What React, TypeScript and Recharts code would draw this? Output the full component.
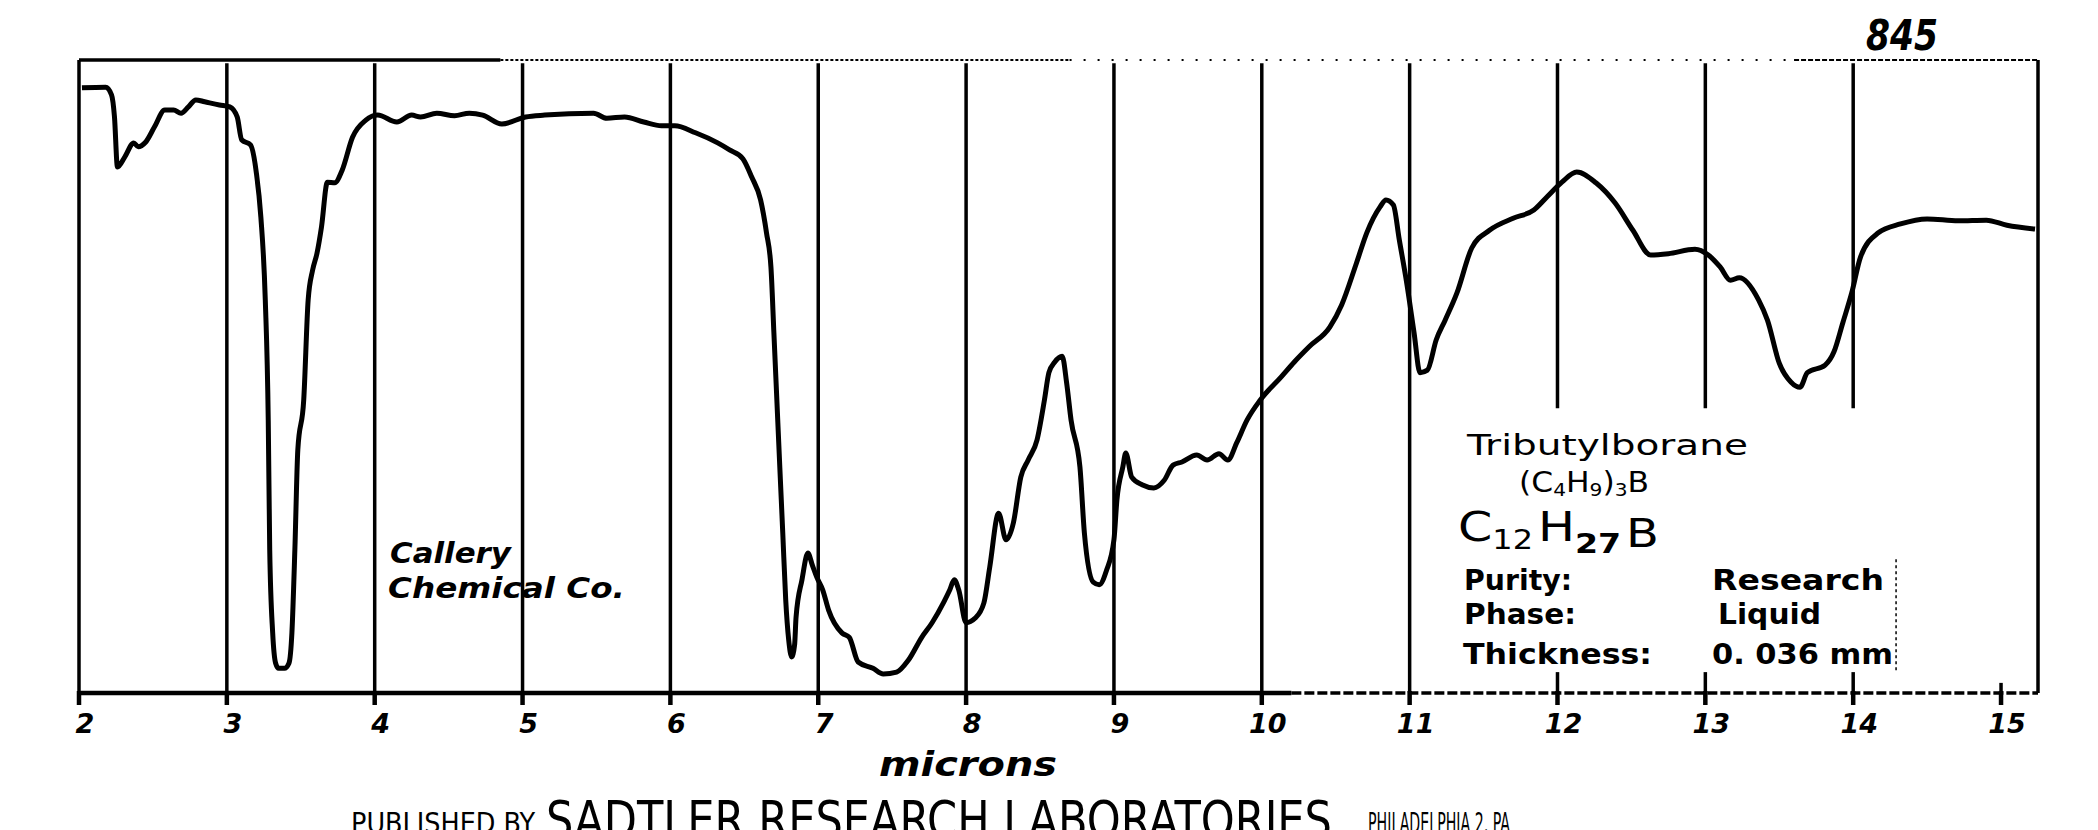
import React from 'react';
import { LineChart, Line, XAxis, YAxis, ReferenceLine } from 'recharts';

// wavelength in microns
const wavelength = [
  2.02, 2.18, 2.22, 2.24, 2.26, 2.31, 2.37, 2.40, 2.45, 2.51, 2.58, 2.64, 2.69, 2.74, 2.79, 2.85, 2.95,
  3.02, 3.07, 3.10, 3.16, 3.20, 3.23, 3.26, 3.28, 3.29, 3.31, 3.33, 3.35, 3.39, 3.42, 3.44, 3.46, 3.48,
  3.52, 3.55, 3.58, 3.61, 3.64, 3.68, 3.73, 3.78, 3.85, 3.94, 4.02, 4.15, 4.25, 4.31, 4.42, 4.54, 4.64,
  4.73, 4.86, 5.02, 5.15, 5.48, 5.57, 5.69, 5.82, 5.94, 6.03, 6.17, 6.32, 6.40, 6.49, 6.55, 6.61, 6.65,
  6.68, 6.70, 6.72, 6.74, 6.76, 6.78, 6.80, 6.82, 6.84, 6.85, 6.89, 6.93, 6.96, 6.99, 7.03, 7.07, 7.16,
  7.21, 7.27, 7.37, 7.44, 7.53, 7.61, 7.70, 7.77, 7.85, 7.89, 7.92, 7.95, 8.00, 8.06, 8.12, 8.16, 8.22,
  8.27, 8.32, 8.37, 8.42, 8.48, 8.53, 8.56, 8.60, 8.65, 8.68, 8.71, 8.77, 8.80, 8.86, 8.90, 8.95, 9.00,
  9.02, 9.06, 9.08, 9.12, 9.19, 9.27, 9.34, 9.40, 9.46, 9.56, 9.63, 9.71, 9.77, 9.83, 9.90, 9.99, 10.13,
  10.22, 10.32, 10.46, 10.54, 10.64, 10.71, 10.80, 10.84, 10.89, 10.93, 10.98, 11.03, 11.07, 11.12, 11.18,
  11.24, 11.32, 11.42, 11.54, 11.70, 11.84, 11.93, 12.03, 12.13, 12.26, 12.39, 12.51, 12.63, 12.75, 12.93,
  13.02, 13.10, 13.17, 13.23, 13.36, 13.42, 13.50, 13.58, 13.64, 13.69, 13.81, 13.87, 13.93, 13.99, 14.05,
  14.17, 14.32, 14.50, 14.71, 14.90, 15.04, 15.23,
];

// percent transmittance
const transmittance = [
  95.6, 95.7, 94.5, 91.0, 83.1, 84.7, 86.9, 86.3, 87.0, 89.4, 92.1, 92.1, 91.6, 92.6, 93.7, 93.4, 92.9,
  92.6, 91.0, 87.4, 86.6, 82.1, 75.2, 62.1, 43.1, 22.6, 9.5, 4.7, 3.9, 3.9, 4.7, 9.5, 22.6, 38.4,
  46.3, 62.1, 66.8, 69.5, 73.6, 80.7, 80.6, 82.6, 87.8, 90.5, 91.3, 90.2, 91.3, 91.0, 91.6, 91.2, 91.6,
  91.3, 89.9, 91.0, 91.3, 91.6, 90.8, 91.0, 90.2, 89.6, 89.6, 88.5, 86.9, 85.8, 84.4, 81.5, 77.9, 72.7,
  67.3, 56.9, 46.3, 35.7, 25.3, 14.7, 8.4, 5.7, 7.6, 12.0, 17.9, 22.1, 20.2, 18.3, 16.3, 13.1, 9.5,
  8.8, 4.9, 3.9, 3.0, 3.3, 5.2, 8.8, 11.1, 14.4, 16.3, 17.9, 16.3, 11.1, 11.8, 14.2, 19.9, 28.4,
  24.2, 26.9, 34.1, 36.8, 40.0, 46.3, 50.6, 52.3, 53.2, 49.0, 43.1, 35.7, 25.3, 17.5, 17.1, 19.4, 24.2,
  30.5, 35.7, 37.9, 34.1, 32.9, 32.4, 33.6, 36.0, 36.5, 37.6, 36.8, 37.8, 36.8, 39.5, 43.1, 46.3, 49.9,
  52.3, 54.7, 57.8, 61.3, 67.9, 72.7, 76.8, 77.9, 77.1, 71.6, 64.8, 56.9, 50.6, 51.0, 55.8,
  58.9, 63.2, 70.3, 73.1, 75.0, 76.3, 78.4, 80.7, 82.3, 80.6, 77.4, 73.1, 69.2, 69.4, 70.1,
  69.2, 67.3, 65.2, 65.6, 62.1, 58.9, 52.1, 49.1, 48.3, 50.6, 51.8, 53.9, 58.5, 63.2, 68.9,
  72.7, 74.1, 74.9, 74.6, 74.7, 73.9, 73.3,
];

const xTicks = [2, 3, 4, 5, 6, 7, 8, 9, 10, 11, 12, 13, 14, 15];
const tickLabels = ['2', '3', '4', '5', '6', '7', '8', '9', '10', '11', '12', '13', '14', '15'];
const fullGridLines = [3, 4, 5, 6, 7, 8, 9, 10, 11];
const partialGridLines = [12, 13, 14];

const X_MIN = 2;
const X_MAX = 15.25;

const data = wavelength.map((w, i) => ({ w, t: transmittance[i] }));

const HAND = "'DejaVu Sans', 'Noto Sans', sans-serif";
const NARROW = "'Liberation Sans Narrow', 'DejaVu Sans Condensed', 'Liberation Sans', sans-serif";

const Tick = (props: any) => {
  const { x, y, payload } = props;
  const idx = xTicks.indexOf(payload.value);
  const label = idx >= 0 ? tickLabels[idx] : String(payload.value);
  return (
    <g>
      <line x1={x} x2={x} y1={y - 2} y2={y + 12} stroke="#000" strokeWidth={4.5} />
      <text
        x={x + 6}
        y={y + 40}
        textAnchor="middle"
        fontFamily={HAND}
        fontStyle="italic"
        fontWeight="bold"
        fontSize={27}
        fill="#000"
      >
        {label}
      </text>
    </g>
  );
};

export default function App() {
  return (
    <div style={{ position: 'absolute', left: 0, top: 0, width: 2098, height: 830, background: '#fff' }}>
      <LineChart
        width={2098}
        height={830}
        data={data}
        margin={{ top: 60, right: 60, bottom: 0, left: 79 }}
      >
        <XAxis
          dataKey="w"
          type="number"
          domain={[X_MIN, X_MAX]}
          ticks={xTicks}
          allowDataOverflow
          height={137}
          tickSize={0}
          tickMargin={0}
          tickLine={false}
          axisLine={false}
          tick={<Tick />}
        />
        <YAxis type="number" domain={[0, 100]} hide width={0} />

        {/* frame */}
        <ReferenceLine segment={[{ x: X_MIN, y: 0 }, { x: X_MIN, y: 100 }]} stroke="#000" strokeWidth={3.5} ifOverflow="visible" />
        <ReferenceLine segment={[{ x: X_MAX, y: 0 }, { x: X_MAX, y: 100 }]} stroke="#000" strokeWidth={3.5} ifOverflow="visible" />
        <ReferenceLine segment={[{ x: X_MIN, y: 100 }, { x: 4.85, y: 100 }]} stroke="#000" strokeWidth={3.5} ifOverflow="visible" />
        <ReferenceLine segment={[{ x: 4.85, y: 100 }, { x: 8.7, y: 100 }]} stroke="#000" strokeWidth={2} strokeDasharray="3 2" ifOverflow="visible" />
        <ReferenceLine segment={[{ x: 8.7, y: 100 }, { x: 13.6, y: 100 }]} stroke="#000" strokeWidth={2} strokeDasharray="2 12" ifOverflow="visible" />
        <ReferenceLine segment={[{ x: 13.6, y: 100 }, { x: X_MAX, y: 100 }]} stroke="#000" strokeWidth={2} strokeDasharray="5 2" ifOverflow="visible" />
        <ReferenceLine segment={[{ x: X_MIN, y: 0 }, { x: 10.2, y: 0 }]} stroke="#000" strokeWidth={4.5} ifOverflow="visible" />
        <ReferenceLine segment={[{ x: 10.2, y: 0 }, { x: X_MAX, y: 0 }]} stroke="#000" strokeWidth={3.5} strokeDasharray="10 3" ifOverflow="visible" />

        {fullGridLines.map((g) => (
          <ReferenceLine key={`g${g}`} segment={[{ x: g, y: 0 }, { x: g, y: 99.5 }]} stroke="#000" strokeWidth={3.5} ifOverflow="visible" />
        ))}
        {partialGridLines.map((g) => (
          <ReferenceLine key={`p${g}`} segment={[{ x: g, y: 45 }, { x: g, y: 99.5 }]} stroke="#000" strokeWidth={3.5} ifOverflow="visible" />
        ))}
        {partialGridLines.map((g) => (
          <ReferenceLine key={`q${g}`} segment={[{ x: g, y: 0 }, { x: g, y: 3.3 }]} stroke="#000" strokeWidth={3.5} ifOverflow="visible" />
        ))}
        <ReferenceLine segment={[{ x: 15, y: 0 }, { x: 15, y: 1.6 }]} stroke="#000" strokeWidth={3.5} ifOverflow="visible" />
        <ReferenceLine segment={[{ x: 14.29, y: 3.6 }, { x: 14.29, y: 21.5 }]} stroke="#000" strokeWidth={1.5} strokeDasharray="3 3" ifOverflow="visible" />

        <Line
          type="monotone"
          dataKey="t"
          stroke="#000"
          strokeWidth={5}
          dot={false}
          activeDot={false}
          isAnimationActive={false}
        />
      </LineChart>

      <svg
        width={2098}
        height={830}
        style={{ position: 'absolute', left: 0, top: 0, pointerEvents: 'none' }}
      >
        <text x={1866} y={50} fontFamily={HAND} fontStyle="italic" fontWeight="bold" fontSize={42} textLength={72} lengthAdjust="spacingAndGlyphs">845</text>

        <text x={390} y={563} fontFamily={HAND} fontStyle="italic" fontWeight="bold" fontSize={28} textLength={121} lengthAdjust="spacingAndGlyphs">Callery</text>
        <text x={388} y={598} fontFamily={HAND} fontStyle="italic" fontWeight="bold" fontSize={28} textLength={237} lengthAdjust="spacingAndGlyphs">Chemical Co.</text>

        <text x={1467} y={455} fontFamily={HAND} fontSize={29} textLength={281} lengthAdjust="spacingAndGlyphs">Tributylborane</text>
        <text x={1519} y={492} fontFamily={HAND} fontSize={28} textLength={130} lengthAdjust="spacingAndGlyphs">
          (C<tspan fontSize={18} dy={4}>4</tspan><tspan dy={-4}>H</tspan><tspan fontSize={18} dy={4}>9</tspan><tspan dy={-4}>)</tspan><tspan fontSize={18} dy={4}>3</tspan><tspan dy={-4}>B</tspan>
        </text>
        <text x={1458} y={541} fontFamily={HAND} fontSize={40} textLength={201} lengthAdjust="spacingAndGlyphs">
          C<tspan fontSize={26} dy={8}>12</tspan><tspan dx={4} dy={-8}>H</tspan><tspan fontSize={27} fontWeight="bold" dy={12}>27</tspan><tspan fontSize={39} dx={4} dy={-6}>B</tspan>
        </text>

        <text x={1464} y={590} fontFamily={HAND} fontWeight="bold" fontSize={28} textLength={108} lengthAdjust="spacingAndGlyphs">Purity:</text>
        <text x={1712} y={590} fontFamily={HAND} fontWeight="bold" fontSize={29} textLength={172} lengthAdjust="spacingAndGlyphs">Research</text>
        <text x={1464} y={624} fontFamily={HAND} fontWeight="bold" fontSize={28} textLength={112} lengthAdjust="spacingAndGlyphs">Phase:</text>
        <text x={1718} y={624} fontFamily={HAND} fontWeight="bold" fontSize={29} textLength={103} lengthAdjust="spacingAndGlyphs">Liquid</text>
        <text x={1463} y={664} fontFamily={HAND} fontWeight="bold" fontSize={28} textLength={189} lengthAdjust="spacingAndGlyphs">Thickness:</text>
        <text x={1712} y={664} fontFamily={HAND} fontWeight="bold" fontSize={28} textLength={181} lengthAdjust="spacingAndGlyphs">0. 036 mm</text>

        <text x={879} y={776} fontFamily={HAND} fontStyle="italic" fontWeight="bold" fontSize={34} textLength={178} lengthAdjust="spacingAndGlyphs">microns</text>

        <text x={351} y={833} fontFamily={NARROW} fontSize={28} textLength={184} lengthAdjust="spacingAndGlyphs">PUBLISHED BY</text>
        <text x={546} y={838} fontFamily={NARROW} fontSize={52} textLength={786} lengthAdjust="spacingAndGlyphs">SADTLER RESEARCH LABORATORIES</text>
        <text x={1368} y={833} fontFamily={NARROW} fontSize={28} textLength={142} lengthAdjust="spacingAndGlyphs">PHILADELPHIA 2, PA</text>
      </svg>
    </div>
  );
}
